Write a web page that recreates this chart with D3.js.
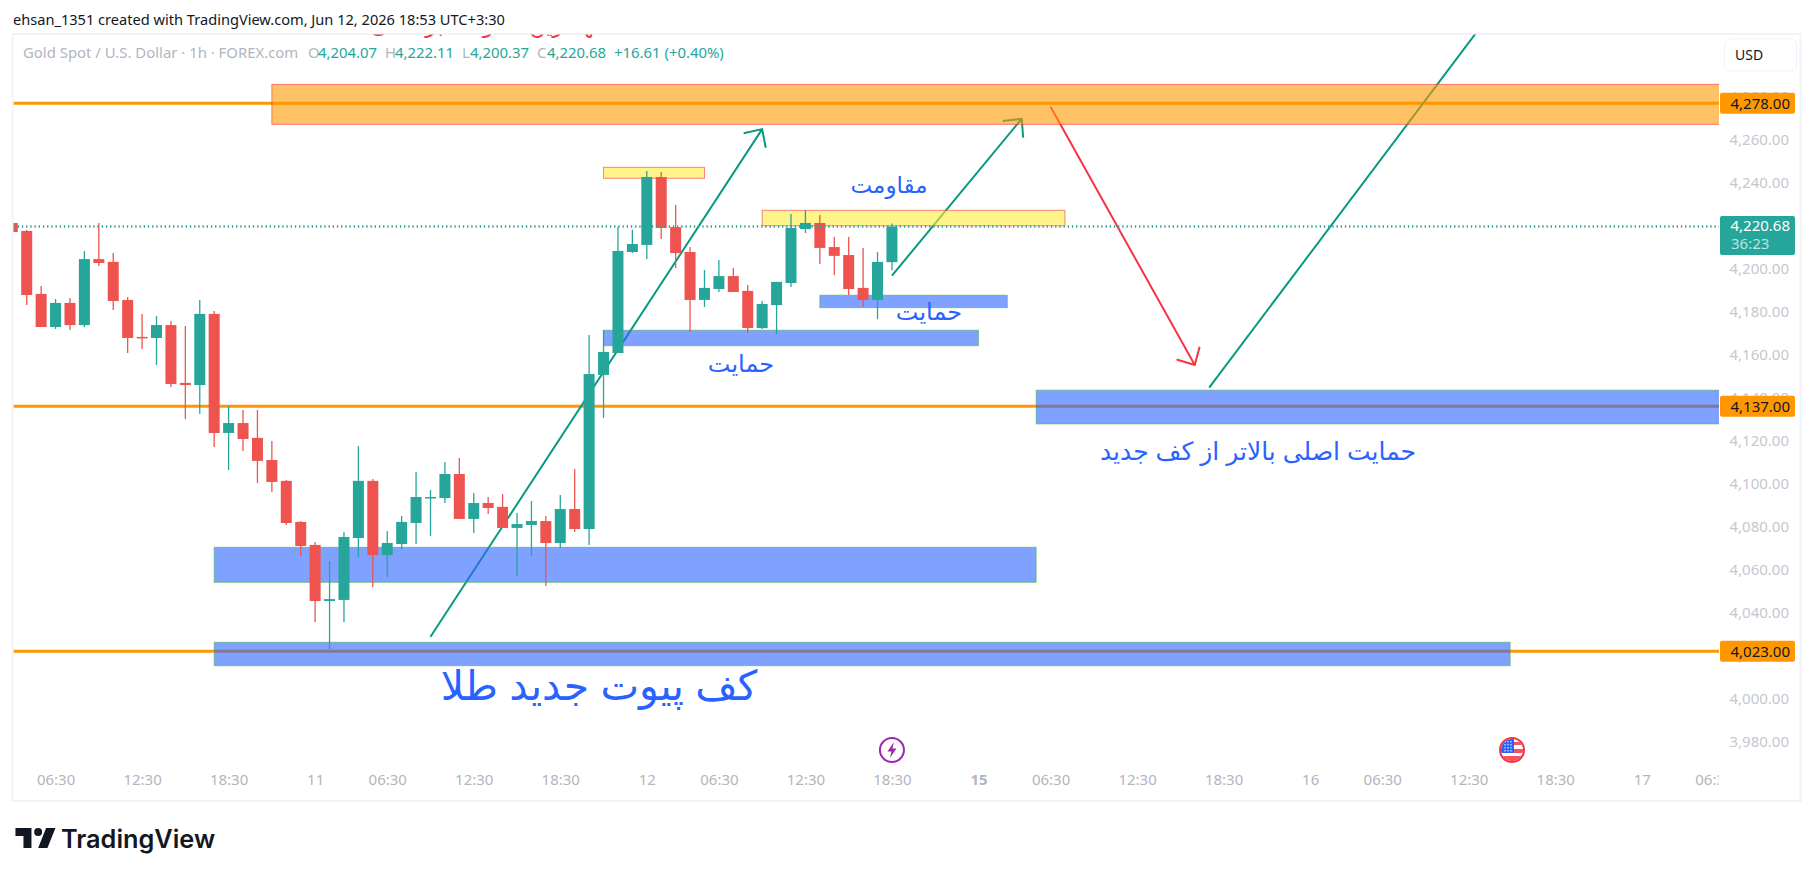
<!DOCTYPE html>
<html>
<head>
<meta charset="utf-8">
<title>Gold Spot / U.S. Dollar</title>
<script src="https://cdnjs.cloudflare.com/ajax/libs/d3/7.8.5/d3.min.js"></script>
<style>
  html, body { margin: 0; padding: 0; background: #fff; }
  svg { display: block; }
  text { font-family: "Noto Sans", sans-serif; }
  .fa { font-family: "Liberation Sans", "DejaVu Sans", sans-serif; direction: rtl; fill: #2962ff; }
</style>
</head>
<body>
<script>
// Candle values (first candle is the clipped one at the left edge)
var opens = [4222.3,4218.6,4189.3,4173.9,4185.1,4174.8,4205.5,4204.2,4186.5,4169.3,4168.8,4174.8,4147.9,4146.9,4180.0,4124.6,4129.2,4122.3,4112.0,4102.3,4083.2,4072.5,4046.4,4046.9,4075.7,4102.3,4067.8,4072.9,4082.7,4094.3,4094.3,4105.5,4084.6,4092.0,4090.2,4080.4,4081.8,4083.6,4073.4,4089.2,4079.9,4151.6,4161.8,4208.8,4212.1,4243.7,4220.4,4208.8,4186.5,4191.6,4197.6,4190.7,4173.4,4184.1,4194.4,4219.5,4222.3,4211.1,4207.4,4192.1,4186.5,4204.07];
var highs = [4222.3,4219.0,4193.0,4186.9,4187.4,4209.3,4222.3,4208.3,4187.9,4180.0,4179.0,4176.7,4174.4,4186.5,4181.4,4137.2,4135.3,4135.3,4120.9,4102.7,4083.6,4073.9,4065.0,4078.5,4118.5,4103.2,4079.0,4086.0,4106.4,4098.1,4111.1,4113.0,4096.7,4094.8,4096.2,4087.4,4092.9,4086.0,4095.7,4107.8,4170.2,4172.5,4220.4,4219.0,4246.5,4246.0,4230.7,4211.1,4200.4,4205.1,4201.4,4193.5,4186.0,4194.9,4226.5,4228.4,4226.0,4215.8,4215.8,4210.7,4208.8,4222.11];
var lows = [4218.1,4184.1,4173.9,4173.0,4172.5,4173.9,4202.3,4181.8,4161.8,4163.7,4156.2,4146.0,4131.1,4133.4,4118.1,4107.4,4116.2,4101.3,4097.1,4081.8,4067.4,4036.6,4024.1,4036.6,4066.9,4052.9,4057.6,4070.6,4072.9,4076.7,4092.0,4084.6,4078.1,4086.9,4080.4,4058.0,4067.4,4053.4,4071.1,4078.5,4072.5,4131.6,4161.8,4208.3,4205.5,4214.9,4201.4,4171.6,4183.2,4190.2,4190.2,4171.1,4173.0,4170.7,4192.5,4217.7,4203.2,4198.1,4188.8,4183.2,4177.6,4200.37];
var closes = [4218.1,4188.8,4173.9,4185.1,4174.8,4205.5,4203.7,4186.0,4168.8,4168.8,4174.8,4147.4,4146.9,4180.0,4124.6,4129.2,4121.8,4111.6,4101.8,4082.7,4072.0,4046.4,4047.3,4076.2,4102.3,4067.8,4073.4,4083.2,4094.8,4094.8,4105.5,4084.6,4092.0,4089.7,4080.4,4082.2,4083.6,4073.4,4089.2,4079.9,4152.0,4162.3,4209.3,4212.5,4243.7,4220.0,4208.3,4186.5,4192.1,4197.6,4190.2,4173.4,4184.6,4194.9,4220.0,4222.3,4210.7,4207.0,4191.6,4186.5,4204.2,4220.68];

// Axes
var priceTicks = [3980,4000,4020,4040,4060,4080,4100,4120,4140,4160,4180,4200,4240,4260,4280];
var timeTickBars = [3,9,15,21,26,32,38,44,49,55,61,67,72,78,84,90,95,101,107,113,118];
var timeTickLabels = ["06:30","12:30","18:30","11","06:30","12:30","18:30","12","06:30","12:30","18:30","15","06:30","12:30","18:30","16","06:30","12:30","18:30","17","06:30"];

// Drawings
var levelPrices = [4278, 4137, 4023];
var zoneNames = ["orange","yellow","yellow","blue","blue","blue","blue","blue"];
var zoneStart = [18, 41, 52, 56, 41, 14, 71, 14];
var zoneEnd = [122, 48, 73, 69, 67, 71, 122, 103.87];
var zoneTop = [4286.8, 4248.2, 4228.2, 4188.7, 4172.4, 4071.4, 4144.5, 4027.2];
var zoneBottom = [4268.2, 4243.1, 4221.0, 4182.9, 4165.2, 4055.1, 4128.8, 4016.3];
var trendColors = ["#089981","#089981","#f23645","#089981"];
var trendHeads = [true, true, true, false];
var trendX1 = [29, 61, 72, 83];
var trendP1 = [4029.8, 4197.8, 4276.4, 4145.7];
var trendX2 = [52, 70, 82, 101.5];
var trendP2 = [4266.0, 4270.8, 4156.2, 4310.7];

// Define SVG dimensions
var svgWidth = 1814;
var svgHeight = 877;
var paneLeft = 13.5, paneRight = 1719, paneTop = 34.5, paneBottom = 801;

var svg = d3.select("body").append("svg")
  .attr("width", svgWidth)
  .attr("height", svgHeight);

var xScale = d3.scaleLinear().domain([0, 118]).range([12.3, 1713.9]);
var yScale = d3.scaleLinear().domain([4278, 3980]).range([103.3, 743.7]);

// Frame
svg.append("rect")
  .attr("x", 12.5).attr("y", 34)
  .attr("width", 1788).attr("height", 767)
  .attr("fill", "#fff")
  .attr("stroke", "#f0f3fa")
  .attr("stroke-width", 2);

svg.append("clipPath").attr("id", "pane").append("rect")
  .attr("x", paneLeft).attr("y", paneTop)
  .attr("width", paneRight - paneLeft).attr("height", paneBottom - paneTop);

svg.append("clipPath").attr("id", "timeClip").append("rect")
  .attr("x", paneLeft).attr("y", 765)
  .attr("width", paneRight - paneLeft).attr("height", 36);

var chart = svg.append("g").attr("clip-path", "url(#pane)");

// Horizontal levels, under everything else
chart.selectAll(".level")
  .data(levelPrices)
  .enter()
  .append("line")
  .attr("x1", paneLeft).attr("x2", paneRight)
  .attr("y1", function(d) { return yScale(d); })
  .attr("y2", function(d) { return yScale(d); })
  .attr("stroke", "#ff9800")
  .attr("stroke-width", 3);

// Trend lines and arrow heads
var headLen = 19, headAngle = 44 * Math.PI / 180;
trendX1.forEach(function(d, i) {
  var x1 = xScale(trendX1[i]), y1 = yScale(trendP1[i]);
  var x2 = xScale(trendX2[i]), y2 = yScale(trendP2[i]);
  var path = d3.path();
  path.moveTo(x1, y1);
  path.lineTo(x2, y2);
  if (trendHeads[i]) {
    var a = Math.atan2(y1 - y2, x1 - x2);
    path.moveTo(x2 + headLen * Math.cos(a - headAngle), y2 + headLen * Math.sin(a - headAngle));
    path.lineTo(x2, y2);
    path.lineTo(x2 + headLen * Math.cos(a + headAngle), y2 + headLen * Math.sin(a + headAngle));
  }
  chart.append("path")
    .attr("d", path.toString())
    .attr("fill", "none")
    .attr("stroke", trendColors[i])
    .attr("stroke-width", 2);
});

// Zones
var zoneFill = { orange: "rgba(255,152,0,0.6)", yellow: "rgba(255,235,59,0.6)", blue: "rgba(41,98,255,0.6)" };
var zoneStroke = { orange: "rgba(242,54,69,0.6)", yellow: "rgba(242,54,69,0.6)", blue: "rgba(76,175,80,0.6)" };
chart.selectAll(".zone")
  .data(zoneNames)
  .enter()
  .append("rect")
  .attr("x", function(d, i) { return xScale(zoneStart[i]); })
  .attr("y", function(d, i) { return yScale(zoneTop[i]); })
  .attr("width", function(d, i) { return xScale(zoneEnd[i]) - xScale(zoneStart[i]); })
  .attr("height", function(d, i) { return yScale(zoneBottom[i]) - yScale(zoneTop[i]); })
  .attr("fill", function(d) { return zoneFill[d]; })
  .attr("stroke", function(d) { return zoneStroke[d]; })
  .attr("stroke-width", 1);

// Candles
var up = "#26a69a", down = "#ef5350";
var candle = chart.selectAll(".candle")
  .data(opens)
  .enter()
  .append("g")
  .attr("transform", function(d, i) { return "translate(" + xScale(i) + ",0)"; });

candle.append("line")
  .attr("y1", function(d, i) { return yScale(highs[i]); })
  .attr("y2", function(d, i) { return yScale(lows[i]); })
  .attr("stroke", function(d, i) { return closes[i] >= opens[i] ? up : down; })
  .attr("stroke-width", 1.3);

candle.append("rect")
  .attr("x", -5.5)
  .attr("width", 11)
  .attr("y", function(d, i) { return yScale(Math.max(opens[i], closes[i])); })
  .attr("height", function(d, i) { return Math.max(1.5, Math.abs(yScale(opens[i]) - yScale(closes[i]))); })
  .attr("fill", function(d, i) { return closes[i] >= opens[i] ? up : down; });

// Last price line
chart.append("line")
  .attr("x1", paneLeft).attr("x2", paneRight)
  .attr("y1", yScale(4220.68)).attr("y2", yScale(4220.68))
  .attr("stroke", up)
  .attr("stroke-width", 2.5)
  .attr("stroke-dasharray", "1.3 2.9");

// Persian notes
function note(txt, cx, baseline, size, color) {
  chart.append("text")
    .attr("class", "fa")
    .attr("x", cx).attr("y", baseline)
    .attr("text-anchor", "middle")
    .style("font-size", size + "px")
    .style("fill", color || "#2962ff")
    .text(txt);
}
note("مهمترین مقاومت برگشتی", 488, 33, 22, "#f23645");
note("مقاومت", 889, 193, 23);
note("حمایت", 929, 320, 24);
note("حمایت", 741, 372, 24);
note("حمایت اصلی بالاتر از کف جدید", 1258, 460, 25);
note("کف پیوت جدید طلا", 599, 700, 41);

// Event markers
var boltBar = 61, flagBar = 104, markerY = 750;
var bolt = svg.append("g").attr("transform", "translate(" + xScale(boltBar) + "," + markerY + ")");
bolt.append("circle").attr("r", 12).attr("fill", "#fff").attr("stroke", "#9c27b0").attr("stroke-width", 2);
bolt.append("path").attr("d", "M2,-8 L-4.5,1.5 L-0.5,1.5 L-2,8 L4.5,-1.5 L0.5,-1.5 Z").attr("fill", "#9c27b0");

var flag = svg.append("g").attr("transform", "translate(" + xScale(flagBar) + "," + markerY + ")");
flag.append("clipPath").attr("id", "flagClip").append("circle").attr("r", 11);
var flagInner = flag.append("g").attr("clip-path", "url(#flagClip)");
flagInner.append("rect").attr("x", -12).attr("y", -12).attr("width", 24).attr("height", 24).attr("fill", "#fff");
flagInner.append("rect").attr("x", -12).attr("y", 6).attr("width", 24).attr("height", 6).attr("fill", "#f7525f");
flagInner.append("rect").attr("x", 2).attr("y", -1).attr("width", 10).attr("height", 4).attr("fill", "#f7525f");
flagInner.append("rect").attr("x", 2).attr("y", -8).attr("width", 10).attr("height", 3).attr("fill", "#f7525f");
flagInner.append("rect").attr("x", -12).attr("y", -12).attr("width", 14).attr("height", 15).attr("fill", "#2962ff");
[-7, -4, -1].forEach(function(dx) {
  flagInner.append("line")
    .attr("x1", dx).attr("x2", dx).attr("y1", -9).attr("y2", 2)
    .attr("stroke", "#fff").attr("stroke-width", 1).attr("stroke-dasharray", "1.5 1.5");
});
flag.append("circle").attr("r", 12).attr("fill", "none").attr("stroke", "#f23645").attr("stroke-width", 2);

// Price axis
var priceAxis = d3.axisRight(yScale)
  .tickValues(priceTicks)
  .tickSize(0)
  .tickFormat(d3.format(",.2f"));

var priceG = svg.append("g")
  .attr("transform", "translate(1789,-2.5)")
  .call(priceAxis);
priceG.select(".domain").remove();
priceG.selectAll("text")
  .attr("x", 0)
  .attr("text-anchor", "end")
  .style("font-family", '"Noto Sans", sans-serif')
  .style("font-size", "15px")
  .attr("fill", "#c5c8d0");

// Time axis
var timeAxis = d3.axisBottom(xScale)
  .tickValues(timeTickBars)
  .tickSize(0)
  .tickFormat(function(d, i) { return timeTickLabels[i]; });

var timeG = svg.append("g")
  .attr("clip-path", "url(#timeClip)")
  .append("g")
  .attr("transform", "translate(0,771)")
  .call(timeAxis);
timeG.select(".domain").remove();
timeG.selectAll("text")
  .style("font-family", '"Noto Sans", sans-serif')
  .style("font-size", "15px")
  .attr("fill", "#b2b5be")
  .style("font-weight", function(d) { return d === 67 ? "700" : "400"; });

// Price labels on the axis
var labelW = 75;
levelPrices.forEach(function(p) {
  svg.append("rect")
    .attr("x", 1720).attr("y", yScale(p) - 10.5)
    .attr("width", labelW).attr("height", 21)
    .attr("rx", 2)
    .attr("fill", "#ff9800");
  svg.append("text")
    .attr("x", 1790).attr("y", yScale(p) + 5.5)
    .attr("text-anchor", "end")
    .style("font-size", "15px")
    .attr("fill", "#131722")
    .text(d3.format(",.2f")(p));
});

svg.append("rect")
  .attr("x", 1720).attr("y", 216)
  .attr("width", labelW).attr("height", 39)
  .attr("rx", 2)
  .attr("fill", up);
svg.append("text")
  .attr("x", 1790).attr("y", 230.5)
  .attr("text-anchor", "end")
  .style("font-size", "15px")
  .attr("fill", "#fff")
  .text("4,220.68");
svg.append("text")
  .attr("x", 1731).attr("y", 249)
  .style("font-size", "15px")
  .attr("fill", "rgba(255,255,255,0.7)")
  .text("36:23");

// USD button
svg.append("rect")
  .attr("x", 1724.5).attr("y", 39)
  .attr("width", 72).attr("height", 32)
  .attr("rx", 6)
  .attr("fill", "#fff")
  .attr("stroke", "#f0f3fa");
svg.append("text")
  .attr("x", 1735).attr("y", 60)
  .style("font-size", "14px")
  .attr("fill", "#131722")
  .text("USD");

// Header line
svg.append("text")
  .attr("x", 13).attr("y", 25)
  .style("font-size", "14.6px")
  .attr("fill", "#131722")
  .text("ehsan_1351 created with TradingView.com, Jun 12, 2026 18:53 UTC+3:30");

// Legend
var legendTexts = ["Gold Spot / U.S. Dollar · 1h · FOREX.com","O","4,204.07","H","4,222.11","L","4,200.37","C","4,220.68","+16.61 (+0.40%)"];
var legendX = [23, 308, 318, 385, 395, 462, 470, 537, 547, 614];
legendTexts.forEach(function(t, i) {
  var gray = i === 0 || (i < 9 && i % 2 === 1);
  svg.append("text")
    .attr("x", legendX[i]).attr("y", 58)
    .style("font-size", "14.9px")
    .attr("fill", gray ? "#b2b5be" : up)
    .text(t);
});

// TradingView logo
svg.append("path")
  .attr("d", "M14 6H2v6h6v9h6V6Zm12 15h-7l6-15h7l-6 15Zm-7-9a3 3 0 1 0 0-6 3 3 0 0 0 0 6Z")
  .attr("transform", "translate(12.8,820) scale(1.333)")
  .attr("fill", "#131722");
svg.append("text")
  .attr("x", 61).attr("y", 848)
  .style("font-family", "Inter, sans-serif")
  .style("font-size", "25.3px")
  .style("font-weight", "600")
  .attr("fill", "#131722")
  .text("TradingView");
</script>
</body>
</html>
